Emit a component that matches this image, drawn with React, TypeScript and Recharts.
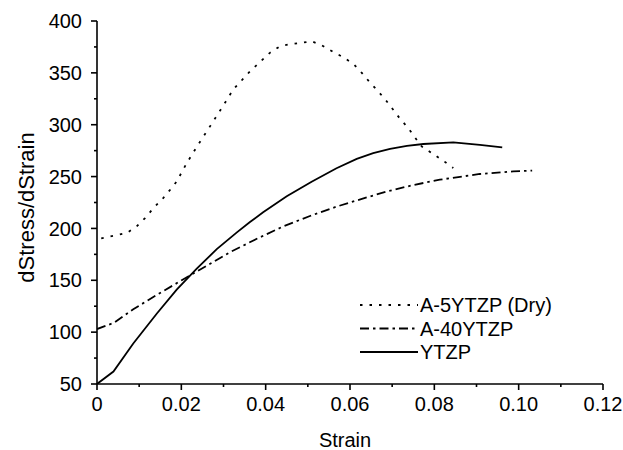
import React from "react"
import { Legend, Line, LineChart, XAxis, YAxis } from "recharts"

// A-5YTZP (Dry), dotted
const dryStrain = [0.001, 0.007, 0.0094, 0.0114, 0.0134, 0.0157, 0.0177, 0.0189, 0.0213, 0.024, 0.0268, 0.0296, 0.0323, 0.0363, 0.0387, 0.041, 0.0434, 0.0458, 0.0485, 0.0509, 0.0533, 0.056, 0.0584, 0.0608, 0.0628, 0.0647, 0.0667, 0.0687, 0.0719, 0.0738, 0.0754, 0.077, 0.0794, 0.0821, 0.0845]
const dryValue = [190.5, 195.5, 201.9, 210, 219.6, 229.3, 238.9, 245.3, 263.1, 280.8, 298.4, 316.2, 333.9, 351.5, 360.6, 369.3, 375.7, 377.6, 379, 380.5, 376.6, 370.3, 365, 358.7, 350, 340.9, 332.2, 322.6, 305.6, 296.9, 287.8, 279.1, 272.7, 265.3, 258.3]

// A-40YTZP, dash-dot
const a40Strain = [0, 0.004, 0.0086, 0.0142, 0.0205, 0.0252, 0.0315, 0.0379, 0.0442, 0.0505, 0.0568, 0.0632, 0.0691, 0.0752, 0.0813, 0.0908, 0.0987, 0.1032]
const a40Value = [103, 109, 122, 136, 151, 162, 177, 190, 202, 212, 221, 229, 236, 242, 247, 252.5, 255, 255.7]

// YTZP, solid
const ytzpStrain = [0, 0.0039, 0.0086, 0.0142, 0.0189, 0.0236, 0.0284, 0.0331, 0.0362, 0.0394, 0.045, 0.0509, 0.0568, 0.0616, 0.0655, 0.0695, 0.0735, 0.0774, 0.0845, 0.0908, 0.0961]
const ytzpValue = [50, 62, 89, 118, 141, 161, 180, 196, 206, 215.5, 231, 245, 258, 267, 272.5, 276.6, 279.5, 281.4, 283, 280.5, 278.2]

const xMajor = [0, 0.02, 0.04, 0.06, 0.08, 0.1, 0.12]
const xMinor = [0.01, 0.03, 0.05, 0.07, 0.09, 0.11]
const yMajor = [50, 100, 150, 200, 250, 300, 350, 400]
const yMinor = [75, 125, 175, 225, 275, 325, 375]

const FONT = "'Liberation Sans', Arial, sans-serif"
const FS = 20

const toPoints = (xs: number[], ys: number[]) => xs.map((x, i) => ({ x, y: ys[i] }))

const series = [
  { name: "A-5YTZP (Dry)", data: toPoints(dryStrain, dryValue), dash: "2.5 7" },
  { name: "A-40YTZP", data: toPoints(a40Strain, a40Value), dash: "9 4 2.5 4" },
  { name: "YTZP", data: toPoints(ytzpStrain, ytzpValue), dash: undefined },
]

const isMajorX = (v: number) => xMajor.some((m) => Math.abs(m - v) < 1e-6)
const fmtX = (v: number) => (v === 0 ? "0" : v.toFixed(2))

const XTick = (props: any) => {
  const { x, y, payload } = props
  const ay = y - 13
  const major = isMajorX(payload.value)
  return (
    <g>
      <line x1={x} x2={x} y1={ay} y2={ay + (major ? 6 : 3)} stroke="#000" strokeWidth={1.6} />
      {major && (
        <text x={x} y={y} dy="0.71em" textAnchor="middle" fontFamily={FONT} fontSize={FS} fill="#000">
          {fmtX(payload.value)}
        </text>
      )}
    </g>
  )
}

const YTick = (props: any) => {
  const { x, y, payload } = props
  const ax = x + 15
  const major = yMajor.includes(payload.value)
  return (
    <g>
      <line x1={ax} x2={ax - (major ? 6 : 3)} y1={y} y2={y} stroke="#000" strokeWidth={1.6} />
      {major && (
        <text x={x} y={y} dy="0.355em" textAnchor="end" fontFamily={FONT} fontSize={FS} fill="#000">
          {payload.value}
        </text>
      )}
    </g>
  )
}

const YLabel = (props: any) => {
  const { viewBox } = props
  const cx = viewBox.x + 26
  const cy = viewBox.y + viewBox.height / 2 + 5
  return (
    <text x={cx} y={cy} dy="0.355em" textAnchor="middle" transform={`rotate(-90 ${cx} ${cy})`} fontFamily={FONT} fontSize={22} fill="#000">
      dStress/dStrain
    </text>
  )
}

const LegendBox = () => (
  <svg width={230} height={76}>
    {series.map((s, i) => (
      <g key={s.name}>
        <line x1={2} x2={60} y1={13 + 23.5 * i} y2={13 + 23.5 * i} stroke="#000" strokeWidth={1.8} strokeDasharray={s.dash} />
        <text x={62} y={13 + 23.5 * i} dy="0.355em" fontFamily={FONT} fontSize={FS} fill="#000">
          {s.name}
        </text>
      </g>
    ))}
  </svg>
)

export default function App() {
  return (
    <div style={{ position: "absolute", left: 0, top: 0, background: "#fff" }}>
      <LineChart width={623} height={450} margin={{ top: 21, right: 20, left: 0, bottom: 0 }}>
        <XAxis
          type="number"
          dataKey="x"
          domain={[0, 0.12]}
          ticks={[...xMajor, ...xMinor].sort((a, b) => a - b)}
          interval={0}
          tick={<XTick />}
          tickLine={false}
          tickSize={6}
          tickMargin={7}
          height={66}
          axisLine={{ stroke: "#000", strokeWidth: 1.6 }}
          allowDataOverflow
          label={{ value: "Strain", position: "insideBottom", offset: 3, dx: -5, fill: "#000", fontSize: FS, fontFamily: FONT }}
        />
        <YAxis
          type="number"
          domain={[50, 400]}
          ticks={[...yMajor, ...yMinor].sort((a, b) => a - b)}
          interval={0}
          tick={<YTick />}
          tickLine={false}
          tickSize={6}
          tickMargin={9}
          width={97}
          axisLine={{ stroke: "#000", strokeWidth: 1.6 }}
          allowDataOverflow
          label={<YLabel />}
        />
        <Legend
          layout="vertical"
          align="center"
          verticalAlign="middle"
          wrapperStyle={{ left: 358, top: 292, width: 230 }}
          content={<LegendBox />}
        />
        {series.map((s) => (
          <Line
            key={s.name}
            name={s.name}
            data={s.data}
            dataKey="y"
            type="linear"
            stroke="#000"
            strokeWidth={1.8}
            strokeDasharray={s.dash}
            dot={false}
            activeDot={false}
            isAnimationActive={false}
          />
        ))}
      </LineChart>
    </div>
  )
}
